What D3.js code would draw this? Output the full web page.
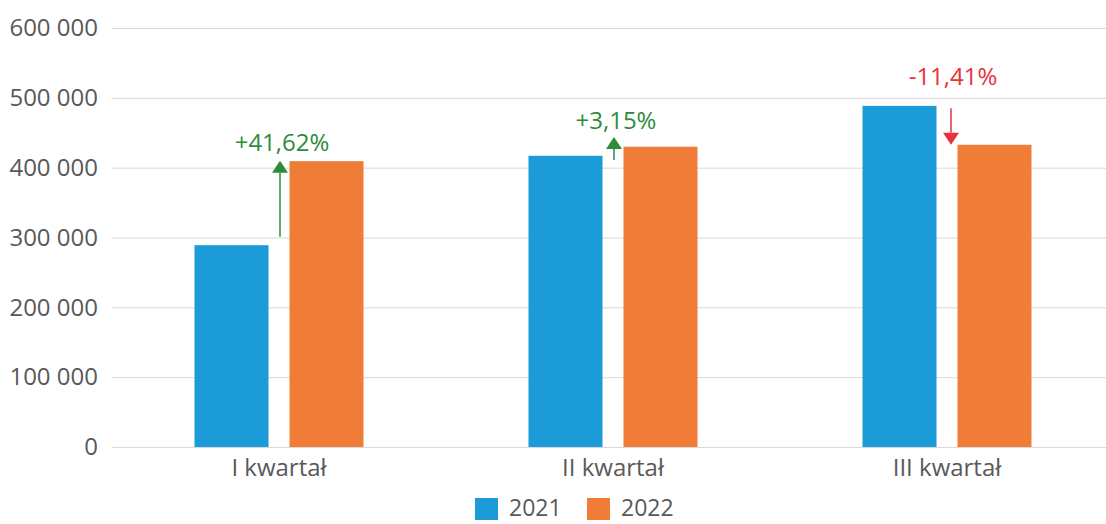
<!DOCTYPE html>
<html>
<head>
<meta charset="utf-8">
<script src="https://cdn.jsdelivr.net/npm/d3@7"></script>
<style>
  body { margin: 0; background: #fff; }
  svg text { font-family: "Open Sans", Lato, sans-serif; }
</style>
</head>
<body>
<div id="chart"></div>
<script>
// data
const categories = ['I kwartał', 'II kwartał', 'III kwartał'];
const seriesNames = ['2021', '2022'];
const values2021 = [289000, 417000, 488500];
const values2022 = [409300, 430000, 432800];
const changeLabels = ['+41,62%', '+3,15%', '-11,41%'];
const arrowFrom = [301000, 411000, 485000];
const arrowTo = [410000, 444000, 432800];
const labelValues = [424000, 455000, 519000];
const yTicks = [0, 100000, 200000, 300000, 400000, 500000, 600000];

const colors = ['#1b9cd9', '#ef7d37'];
const green = '#2e8b3b';
const red = '#e8313b';

const width = 1106, height = 524;
const margin = {top: 28, bottom: 77, left: 112};
const fs = '24px';

const svg = d3.select('#chart').append('svg')
  .attr('width', width)
  .attr('height', height);

const x = d3.scaleBand().domain(categories)
  .range([margin.left, 1114]);
const xInner = d3.scaleBand().domain(seriesNames)
  .range([0, 169]).paddingInner(0.221);
const y = d3.scaleLinear().domain([0, 600000])
  .range([height - margin.bottom, margin.top]);

const fmt = d => d3.format(',')(d).replace(/,/g, ' ');

// grid + y labels
const yAxis = d3.axisLeft(y).tickValues(yTicks).tickFormat(fmt)
  .tickSize(-(width - margin.left)).tickPadding(14);
const yg = svg.append('g')
  .attr('transform', `translate(${margin.left},0)`)
  .call(yAxis);
yg.select('.domain').remove();
yg.selectAll('line').attr('stroke', '#d9d9d9').attr('stroke-width', 1);
yg.selectAll('text').attr('fill', '#595959').style('font-size', fs);

// x labels
const xAxis = d3.axisBottom(x).tickSize(0).tickPadding(12);
const xg = svg.append('g')
  .attr('transform', `translate(0,${y(0)})`)
  .call(xAxis);
xg.select('.domain').remove();
xg.selectAll('text').attr('fill', '#595959').style('font-size', fs);

// bars
const rows = categories.map((c, i) => ({cat: c, vals: [values2021[i], values2022[i]]}));
const groups = svg.selectAll('.grp').data(rows).enter().append('g')
  .attr('transform', d => `translate(${x(d.cat) + x.bandwidth() / 2 - 84.5},0)`);
groups.selectAll('rect')
  .data(d => d.vals.map((v, j) => ({s: seriesNames[j], v: v, j: j})))
  .enter().append('rect')
  .attr('x', d => xInner(d.s))
  .attr('y', d => y(d.v))
  .attr('width', xInner.bandwidth())
  .attr('height', d => y(0) - y(d.v))
  .attr('fill', d => colors[d.j]);

// arrows + labels
categories.forEach((c, i) => {
  const col = arrowTo[i] > arrowFrom[i] ? green : red;
  const cx = x(c) + x.bandwidth() / 2 + (col === red ? 4 : 1);
  const y0 = y(arrowFrom[i]), y1 = y(arrowTo[i]);
  const dir = y1 < y0 ? 1 : -1;
  const head = 12;
  svg.append('line')
    .attr('x1', cx).attr('x2', cx)
    .attr('y1', y0).attr('y2', y1 + dir * head)
    .attr('stroke', col).attr('stroke-width', 1.5);
  svg.append('path')
    .attr('d', `M${cx},${y1} L${cx - 8},${y1 + dir * head} L${cx + 8},${y1 + dir * head} Z`)
    .attr('fill', col);
  svg.append('text')
    .attr('x', cx + 2)
    .attr('y', y(labelValues[i]))
    .attr('text-anchor', 'middle')
    .attr('fill', col)
    .style('font-size', fs)
    .text(changeLabels[i]);
});

// legend
const legend = svg.append('g').attr('transform', `translate(475,498)`);
seriesNames.forEach((s, j) => {
  const g = legend.append('g').attr('transform', `translate(${j * 112},0)`);
  g.append('rect').attr('width', 23).attr('height', 22).attr('fill', colors[j]);
  g.append('text').attr('x', 34).attr('y', 18)
    .attr('fill', '#595959').style('font-size', '23px').text(s);
});
</script>
</body>
</html>
